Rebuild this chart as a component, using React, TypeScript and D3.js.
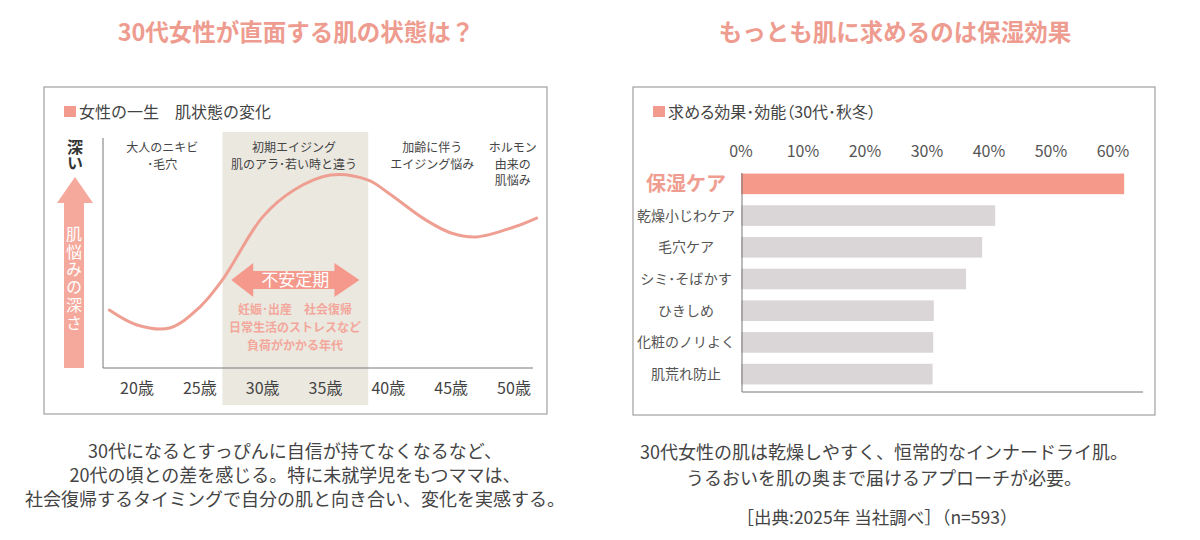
import * as d3 from "d3"

// left chart: skin trouble depth over a woman's life
const ageTicks = [20, 25, 30, 35, 40, 45, 50]
const curveAges = [17.8, 20, 22.6, 25, 26.8, 30, 32.5, 35.4, 38.4, 40, 43, 45, 47, 50, 51.8]
const curveDepth = [2.52, 1.87, 1.74, 2.65, 3.83, 6.57, 7.74, 8.39, 8.17, 7.61, 6.43, 5.87, 5.7, 6.13, 6.52]
const stageAges = [22, 32.5, 43.5, 49.9]
const stageLines = [
  ["大人のニキビ", "･毛穴"],
  ["初期エイジング", "肌のアラ･若い時と違う"],
  ["加齢に伴う", "エイジング悩み"],
  ["ホルモン", "由来の", "肌悩み"],
]
const unstableBand = [26.8, 38.4]
const unstableArrow = [27.5, 37.7]
const unstableNotes = ["妊娠･出産　社会復帰", "日常生活のストレスなど", "負荷がかかる年代"]

// right chart: wanted effects
const effects = ["保湿ケア", "乾燥小じわケア", "毛穴ケア", "シミ･そばかす", "ひきしめ", "化粧のノリよく", "肌荒れ防止"]
const effectValues = [61.8, 41.0, 38.9, 36.3, 31.1, 31.0, 30.9]
const pctTicks = [0, 10, 20, 30, 40, 50, 60]

const leftText = [
  "30代になるとすっぴんに自信が持てなくなるなど、",
  "20代の頃との差を感じる。特に未就学児をもつママは、",
  "社会復帰するタイミングで自分の肌と向き合い、変化を実感する。",
]
const rightText = ["30代女性の肌は乾燥しやすく、恒常的なインナードライ肌。", "うるおいを肌の奥まで届けるアプローチが必要。"]

const FONT = "'Noto Sans CJK JP', 'Noto Sans', sans-serif"
const PINK = "#ee9c8f"
const TEXT = "#444"
const palt = { fontFeatureSettings: "'palt'" }

function LifeChart() {
  const x = d3.scaleLinear().domain([20, 50]).range([137, 514])
  const y = d3.scaleLinear().domain([0, 10]).range([368, 138])
  const line = d3.line<number>()
    .x((_, i) => x(curveAges[i]))
    .y((d) => y(d))
    .curve(d3.curveCatmullRom.alpha(0.5))

  const aL = x(unstableArrow[0]), aR = x(unstableArrow[1]), aY = 280
  const arrowPath = `M${aL},${aY} L${aL + 22},${aY - 17} L${aL + 22},${aY - 9} L${aR - 25},${aY - 9} L${aR - 25},${aY - 17} L${aR},${aY} L${aR - 25},${aY + 17} L${aR - 25},${aY + 9} L${aL + 22},${aY + 9} L${aL + 22},${aY + 17} Z`

  return (
    <g fontFamily={FONT}>
      <rect x={44} y={87} width={503} height={327} fill="none" stroke="#a0a0a0" strokeWidth={1.2} />
      <rect x={64} y={106} width={12} height={11} fill="#f19a8d" />
      <text x={79} y={118} fontSize={16} fill={TEXT}>女性の一生　肌状態の変化</text>

      <rect x={x(unstableBand[0])} y={132} width={x(unstableBand[1]) - x(unstableBand[0])} height={273} fill="#ebe8e0" />

      <line x1={103} x2={103} y1={138} y2={368} stroke="#777" strokeWidth={1} />
      <line x1={103} x2={533} y1={368} y2={368} stroke="#777" strokeWidth={1} />

      {stageLines.map((lines, i) => lines.map((t, j) => (
        <text key={`${i}-${j}`} x={x(stageAges[i])} y={152 + j * 16.5} fontSize={12} textAnchor="middle" fill={TEXT}>{t}</text>
      )))}

      <path d={line(curveDepth) ?? ""} fill="none" stroke="#ef9f92" strokeWidth={3} strokeLinecap="round" />

      <path d={arrowPath} fill="#f4998c" />
      <text x={(aL + aR) / 2} y={aY + 6} fontSize={17} textAnchor="middle" fill="#fff">不安定期</text>
      {unstableNotes.map((t, i) => (
        <text key={t} x={295} y={314 + i * 18} fontSize={12} fontWeight={700} textAnchor="middle" fill="#f3a79b">{t}</text>
      ))}

      {ageTicks.map((a) => (
        <text key={a} x={x(a)} y={394} fontSize={16} textAnchor="middle" fill={TEXT}>{a}歳</text>
      ))}

      {/* vertical depth arrow */}
      <text x={75} y={139} fontSize={16} fontWeight={700} fill="#333" style={{ writingMode: "vertical-rl" }}>深い</text>
      <path d="M75,177 L93,203 L84,203 L84,368 L64,368 L64,203 L57,203 Z" fill="#f5a99c" />
      <text x={74} y={226} fontSize={16} fill="#fff" letterSpacing={1.7} style={{ writingMode: "vertical-rl" }}>肌悩みの深さ</text>
    </g>
  )
}

function EffectChart() {
  const x = d3.scaleLinear().domain([0, 60]).range([741, 1113])
  const y = d3.scaleBand<string>().domain(effects).range([168, 390]).paddingInner(0.35).paddingOuter(0.175)
  return (
    <g fontFamily={FONT}>
      <rect x={633} y={87} width={522} height={328} fill="none" stroke="#a0a0a0" strokeWidth={1.2} />
      <rect x={653} y={106} width={12} height={11} fill="#f19a8d" />
      <text x={668} y={118} fontSize={16} fill={TEXT} style={palt}>求める効果･効能（30代･秋冬）</text>

      {pctTicks.map((p) => (
        <text key={p} x={x(p)} y={157} fontSize={16} textAnchor="middle" fill="#555">{p}%</text>
      ))}

      {effects.map((e, i) => (
        <rect key={e} x={x(0)} y={y(e)} width={x(effectValues[i]) - x(0)} height={y.bandwidth()}
          fill={i === 0 ? "#f5998b" : "#dad6d8"} />
      ))}
      {effects.map((e, i) => (
        <text key={e} x={686} y={(y(e) ?? 0) + y.bandwidth() / 2} dy="0.36em" textAnchor="middle"
          fontSize={i === 0 ? 20 : 14} fontWeight={i === 0 ? 700 : 400} fill={i === 0 ? "#ef9d90" : "#555"}>{e}</text>
      ))}

      <line x1={742} x2={742} y1={173} y2={392} stroke="#777" strokeWidth={1} />
      <line x1={742} x2={1143} y1={392} y2={392} stroke="#777" strokeWidth={1} />
    </g>
  )
}

export default function App() {
  return (
    <svg width={1200} height={540} style={{ position: "fixed", left: 0, top: 0, background: "#fff" }}>
      <rect width={1200} height={540} fill="#fff" />
      <g fontFamily={FONT}>
        <text x={296} y={41} fontSize={23.5} fontWeight={700} textAnchor="middle" fill={PINK}>30代女性が直面する肌の状態は？</text>
        <text x={895} y={41} fontSize={23.5} fontWeight={700} textAnchor="middle" fill={PINK}>もっとも肌に求めるのは保湿効果</text>
      </g>
      <LifeChart />
      <EffectChart />
      <g fontFamily={FONT} fill={TEXT} fontSize={18} textAnchor="middle">
        {leftText.map((t, i) => <text key={i} x={295} y={458 + i * 24}>{t}</text>)}
        {rightText.map((t, i) => <text key={i} x={884} y={459 + i * 26}>{t}</text>)}
        <text x={877} y={524} fontSize={17.5}>［出典:2025年 当社調べ］（n=593）</text>
      </g>
    </svg>
  )
}
